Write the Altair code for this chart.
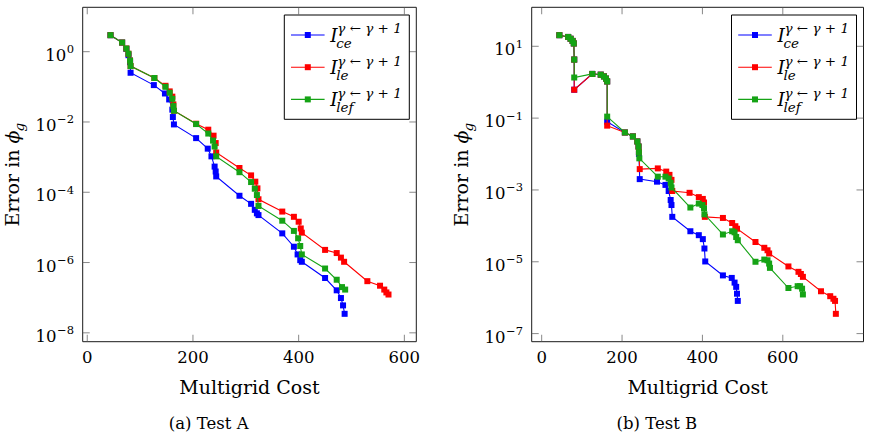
import altair as alt
import numpy as np
import pandas as pd

# ---------------- Test A: error vs multigrid cost ----------------
A_CE_COST = [44, 66, 74, 78, 81, 82, 126, 147, 155, 161, 162, 164,
             206, 228, 235, 241, 243, 244, 288, 310, 317, 321, 324,
             369, 391, 398, 403, 406, 450, 472, 480, 484, 487]
A_CE_ERR = [2.95, 1.82, 1.20, 0.794, 0.501, 0.251, 0.112, 0.0646, 0.0437, 0.0224, 0.0138, 0.00851,
            3.47e-3, 1.74e-3, 1.05e-3, 5.37e-4, 3.89e-4, 2.82e-4, 7.94e-5, 4.68e-5, 3.16e-5, 2.51e-5, 2.24e-5,
            6.76e-6, 2.82e-6, 1.70e-6, 1.17e-6, 1.05e-6, 3.63e-7, 1.62e-7, 9.77e-8, 6.03e-8, 3.47e-8]

A_LE_COST = [44, 66, 74, 78, 81, 82, 127, 148, 156, 161, 163, 164,
             206, 229, 239, 243, 244, 288, 310, 318, 322, 324,
             369, 391, 400, 404, 406, 450, 472, 480, 486, 530, 554, 562, 566, 570]
A_LE_ERR = [2.95, 1.82, 1.23, 0.871, 0.562, 0.389, 0.178, 0.107, 0.0741, 0.0525, 0.0316, 0.0209,
            8.91e-3, 6.03e-3, 4.07e-3, 2.51e-3, 1.35e-3, 4.90e-4, 3.02e-4, 2.00e-4, 1.29e-4, 6.31e-5,
            2.82e-5, 2.00e-5, 1.45e-5, 9.33e-6, 7.08e-6, 2.29e-6, 1.86e-6, 1.38e-6, 1.05e-6,
            2.95e-7, 2.19e-7, 1.70e-7, 1.41e-7, 1.23e-7]

A_LEF_COST = [44, 66, 74, 78, 81, 82, 127, 148, 156, 161, 163, 164,
              206, 229, 238, 241, 244, 288, 310, 317, 321, 324,
              369, 391, 399, 403, 406, 450, 472, 482, 488]
A_LEF_ERR = [2.95, 1.82, 1.23, 0.871, 0.562, 0.389, 0.178, 0.100, 0.0676, 0.0457, 0.0282, 0.0209,
             8.71e-3, 4.68e-3, 2.95e-3, 2.00e-3, 1.05e-3, 3.72e-4, 1.95e-4, 1.26e-4, 8.32e-5, 4.07e-5,
             1.55e-5, 7.94e-6, 4.90e-6, 2.95e-6, 1.70e-6, 6.76e-7, 3.24e-7, 2.00e-7, 1.70e-7]

# ---------------- Test B: error vs multigrid cost ----------------
B_CE_COST = [44, 66, 72, 77, 80, 81, 81, 126, 147, 155, 160, 163, 163,
             207, 227, 238, 241, 242, 244, 287, 308, 316, 321, 323, 325,
             370, 391, 401, 405, 407, 451, 473, 480, 484, 486, 488]
B_CE_ERR = [20.4, 18.2, 16.2, 14.1, 12.0, 4.27, 0.617, 1.70, 1.62, 1.45, 1.26, 1.05, 0.0794,
            0.0398, 0.0309, 0.0224, 0.0162, 0.0100, 2.00e-3, 1.70e-3, 1.38e-3, 9.33e-4, 5.25e-4, 3.80e-4, 1.78e-4,
            7.08e-5, 5.50e-5, 4.27e-5, 2.34e-5, 1.02e-5, 4.17e-6, 3.55e-6, 2.63e-6, 2.00e-6, 1.29e-6, 8.13e-7]

B_LE_COST = [44, 66, 72, 77, 80, 81, 81, 126, 147, 155, 160, 163, 163,
             207, 227, 238, 241, 242, 244, 289, 310, 318, 323, 325,
             368, 391, 401, 404, 406, 451, 474, 482, 486, 532, 554, 562, 566,
             614, 639, 645, 650, 695, 718, 726, 730, 732]
B_LE_ERR = [20.4, 18.2, 16.2, 14.1, 12.0, 4.27, 0.617, 1.70, 1.62, 1.45, 1.26, 1.05, 0.0617,
            0.0398, 0.0309, 0.0224, 0.0162, 0.0112, 3.80e-3, 3.98e-3, 3.24e-3, 2.63e-3, 1.91e-3, 9.33e-4,
            8.32e-4, 6.31e-4, 5.62e-4, 4.47e-4, 1.78e-4, 1.66e-4, 1.20e-4, 9.77e-5, 8.32e-5,
            3.55e-5, 2.45e-5, 2.09e-5, 1.70e-5, 7.41e-6, 5.25e-6, 4.57e-6, 3.80e-6,
            1.51e-6, 1.10e-6, 9.33e-7, 8.13e-7, 3.55e-7]

B_LEF_COST = [44, 66, 72, 77, 80, 81, 81, 126, 147, 155, 160, 163, 163,
              207, 227, 238, 241, 242, 243, 289, 308, 316, 321, 323,
              370, 391, 400, 404, 405, 451, 474, 480, 484, 488,
              532, 554, 562, 566, 568, 614, 637, 643, 648, 650]
B_LEF_ERR = [20.4, 18.2, 16.2, 14.1, 12.0, 4.27, 1.35, 1.70, 1.62, 1.45, 1.26, 1.05, 0.110,
             0.0398, 0.0309, 0.0224, 0.0162, 0.0112, 7.59e-3, 2.34e-3, 2.34e-3, 2.09e-3, 1.58e-3, 1.17e-3,
             3.24e-4, 4.17e-4, 3.80e-4, 3.09e-4, 2.09e-4, 5.75e-5, 7.08e-5, 6.61e-5, 4.90e-5, 3.98e-5,
             1.00e-5, 1.15e-5, 1.10e-5, 8.91e-6, 6.76e-6, 1.86e-6, 2.09e-6, 2.09e-6, 1.78e-6, 1.23e-6]

X_TICKS = [0, 200, 400, 600]
A_Y_EXPONENTS = [0, -2, -4, -6, -8]
B_Y_EXPONENTS = [1, -1, -3, -5, -7]

SERIES = ["ce", "le", "lef"]
COLORS = {"ce": "#0000ff", "le": "#ff0000", "lef": "#15a315"}
SUPERSCRIPT = "γ ← γ + 1"

FONT = "DejaVu Serif"
TICK_SIZE = 16.5
EXP_SIZE = 11.5
TITLE_SIZE = 19

# plot-area boxes of the two panels, in pixels
PANELS = {
    "A": dict(left=82.7, right=416.3, top=7.3, bottom=341.7),
    "B": dict(left=531.7, right=863.5, top=7.3, bottom=341.7),
}

ONE = pd.DataFrame({"_": [0]})


def enlarged(lo, hi, frac=0.1):
    pad = (hi - lo) * frac
    return lo - pad, hi + pad


def text_at(text, x, y, size, **kw):
    return alt.Chart(ONE).mark_text(
        text=text, font=FONT, fontSize=size, color="black", baseline="alphabetic", **kw
    ).encode(x=alt.value(x), y=alt.value(y))


def panel(key, series_data, y_exps, caption):
    box = PANELS[key]
    costs = np.concatenate([np.asarray(c, float) for c, _ in series_data.values()])
    errs = np.concatenate([np.asarray(e, float) for _, e in series_data.values()])
    x0, x1 = enlarged(costs.min(), costs.max())
    l0, l1 = enlarged(np.log10(errs.min()), np.log10(errs.max()))
    y0, y1 = 10.0 ** l0, 10.0 ** l1

    xs = alt.Scale(domain=[x0, x1], range=[box["left"], box["right"]], zero=False, nice=False)
    ys = alt.Scale(type="log", domain=[y0, y1], range=[box["bottom"], box["top"]], nice=False)

    def X(f):
        return alt.X(f, type="quantitative", scale=xs, axis=None)

    def Y(f):
        return alt.Y(f, type="quantitative", scale=ys, axis=None)

    layers = []

    # axis frame
    frame = pd.DataFrame({"x0": [x0], "x1": [x1], "y0": [y0], "y1": [y1]})
    layers.append(
        alt.Chart(frame).mark_rect(fillOpacity=0, stroke="#1a1a1a", strokeWidth=1)
        .encode(x=X("x0"), x2=alt.X2("x1"), y=Y("y0"), y2=alt.Y2("y1"))
    )

    # inward ticks on all four sides
    tick_style = dict(color="#555555", thickness=1, size=7)
    xt = pd.DataFrame({"t": X_TICKS, "ylo": y0, "yhi": y1, "lab": [str(t) for t in X_TICKS]})
    layers.append(alt.Chart(xt).mark_tick(orient="vertical", yOffset=-3.5, **tick_style)
                  .encode(x=X("t"), y=Y("ylo")))
    layers.append(alt.Chart(xt).mark_tick(orient="vertical", yOffset=3.5, **tick_style)
                  .encode(x=X("t"), y=Y("yhi")))
    yt = pd.DataFrame({
        "v": [10.0 ** e for e in y_exps],
        "exp": [str(e).replace("-", "\u2212") for e in y_exps],
        "neg": [e < 0 for e in y_exps],
        "xlo": x0, "xhi": x1,
    })
    layers.append(alt.Chart(yt).mark_tick(orient="horizontal", xOffset=3.5, **tick_style)
                  .encode(x=X("xlo"), y=Y("v")))
    layers.append(alt.Chart(yt).mark_tick(orient="horizontal", xOffset=-3.5, **tick_style)
                  .encode(x=X("xhi"), y=Y("v")))

    # data series: line then square markers, drawn in legend order
    for s in SERIES:
        c, e = series_data[s]
        df = pd.DataFrame({"cost": c, "err": e, "i": range(len(c))})
        base = alt.Chart(df)
        layers.append(base.mark_line(color=COLORS[s], strokeWidth=1.1)
                      .encode(x=X("cost"), y=Y("err"), order=alt.Order("i:Q")))
        layers.append(base.mark_point(shape="square", filled=True, size=36, opacity=1, color=COLORS[s])
                      .encode(x=X("cost"), y=Y("err")))

    # tick labels
    layers.append(alt.Chart(xt).mark_text(font=FONT, fontSize=TICK_SIZE, baseline="alphabetic",
                                          align="center", dy=21.3, color="black")
                  .encode(x=X("t"), y=Y("ylo"), text="lab:N"))
    layers.append(alt.Chart(yt).mark_text(font=FONT, fontSize=EXP_SIZE, baseline="alphabetic",
                                          align="right", dx=-8.7, dy=1.5, color="black")
                  .encode(x=X("xlo"), y=Y("v"), text="exp:N"))
    for neg, w in [(False, 7.3), (True, 17.0)]:
        sub = yt[yt["neg"] == neg]
        layers.append(alt.Chart(sub).mark_text(text="10", font=FONT, fontSize=TICK_SIZE,
                                               baseline="alphabetic", align="right",
                                               dx=-(8.7 + w + 0.5), dy=9, color="black")
                      .encode(x=X("xlo"), y=Y("v")))

    # legend box in the upper-right corner
    lx1 = box["right"] - 7
    lx0 = lx1 - 125
    ly0 = box["top"] + 7.7
    ly1 = ly0 + 104.3
    layers.append(alt.Chart(ONE).mark_rect(fill="white", stroke="black", strokeWidth=1)
                  .encode(x=alt.value(lx0), x2=alt.value(lx1), y=alt.value(ly0), y2=alt.value(ly1)))
    for k, s in enumerate(SERIES):
        cy = ly0 + 20 + 32.2 * k
        layers.append(alt.Chart(ONE).mark_rule(color=COLORS[s], strokeWidth=1.1)
                      .encode(x=alt.value(lx0 + 6.7), x2=alt.value(lx0 + 40.3), y=alt.value(cy)))
        layers.append(alt.Chart(ONE).mark_point(shape="square", filled=True, size=36, opacity=1,
                                                color=COLORS[s])
                      .encode(x=alt.value(lx0 + 23.5), y=alt.value(cy)))
        layers.append(text_at("I", lx0 + 46, cy + 6.7, 18.5, fontStyle="italic", align="left"))
        layers.append(text_at(SUPERSCRIPT, lx0 + 53, cy - 1.7, 13.5, fontStyle="italic", align="left"))
        layers.append(text_at(s, lx0 + 52, cy + 13, 13.5, fontStyle="italic", align="left"))

    # axis titles and caption
    cx = (box["left"] + box["right"]) / 2
    cyp = (box["top"] + box["bottom"]) / 2
    layers.append(text_at("Multigrid Cost", cx, 394.3, TITLE_SIZE, align="center"))
    layers.append(text_at(caption, cx - 40.8, 429.3, 16.5, align="center"))
    ty_x = box["left"] - 64.2
    jy = cyp - 31
    layers.append(text_at("Error in", ty_x, jy, TITLE_SIZE, angle=270, align="right", dx=-6))
    layers.append(text_at("\u03d5", ty_x, jy, TITLE_SIZE, angle=270, align="left", fontStyle="italic"))
    layers.append(text_at("g", ty_x, jy, 13.5, angle=270, align="left", fontStyle="italic", dx=12, dy=5))

    return alt.layer(*layers)


panel_a = panel("A", {"ce": (A_CE_COST, A_CE_ERR), "le": (A_LE_COST, A_LE_ERR),
                      "lef": (A_LEF_COST, A_LEF_ERR)}, A_Y_EXPONENTS, "(a) Test A")
panel_b = panel("B", {"ce": (B_CE_COST, B_CE_ERR), "le": (B_LE_COST, B_LE_ERR),
                      "lef": (B_LEF_COST, B_LEF_ERR)}, B_Y_EXPONENTS, "(b) Test B")

chart = (
    alt.layer(panel_a, panel_b)
    .resolve_scale(x="independent", y="independent")
    .properties(width=874, height=440, autosize=alt.AutoSizeParams(type="none"),
                padding=0, background="white")
    .configure_view(stroke=None)
)

chart.save("out.html", embed_options={"renderer": "svg", "actions": False})
